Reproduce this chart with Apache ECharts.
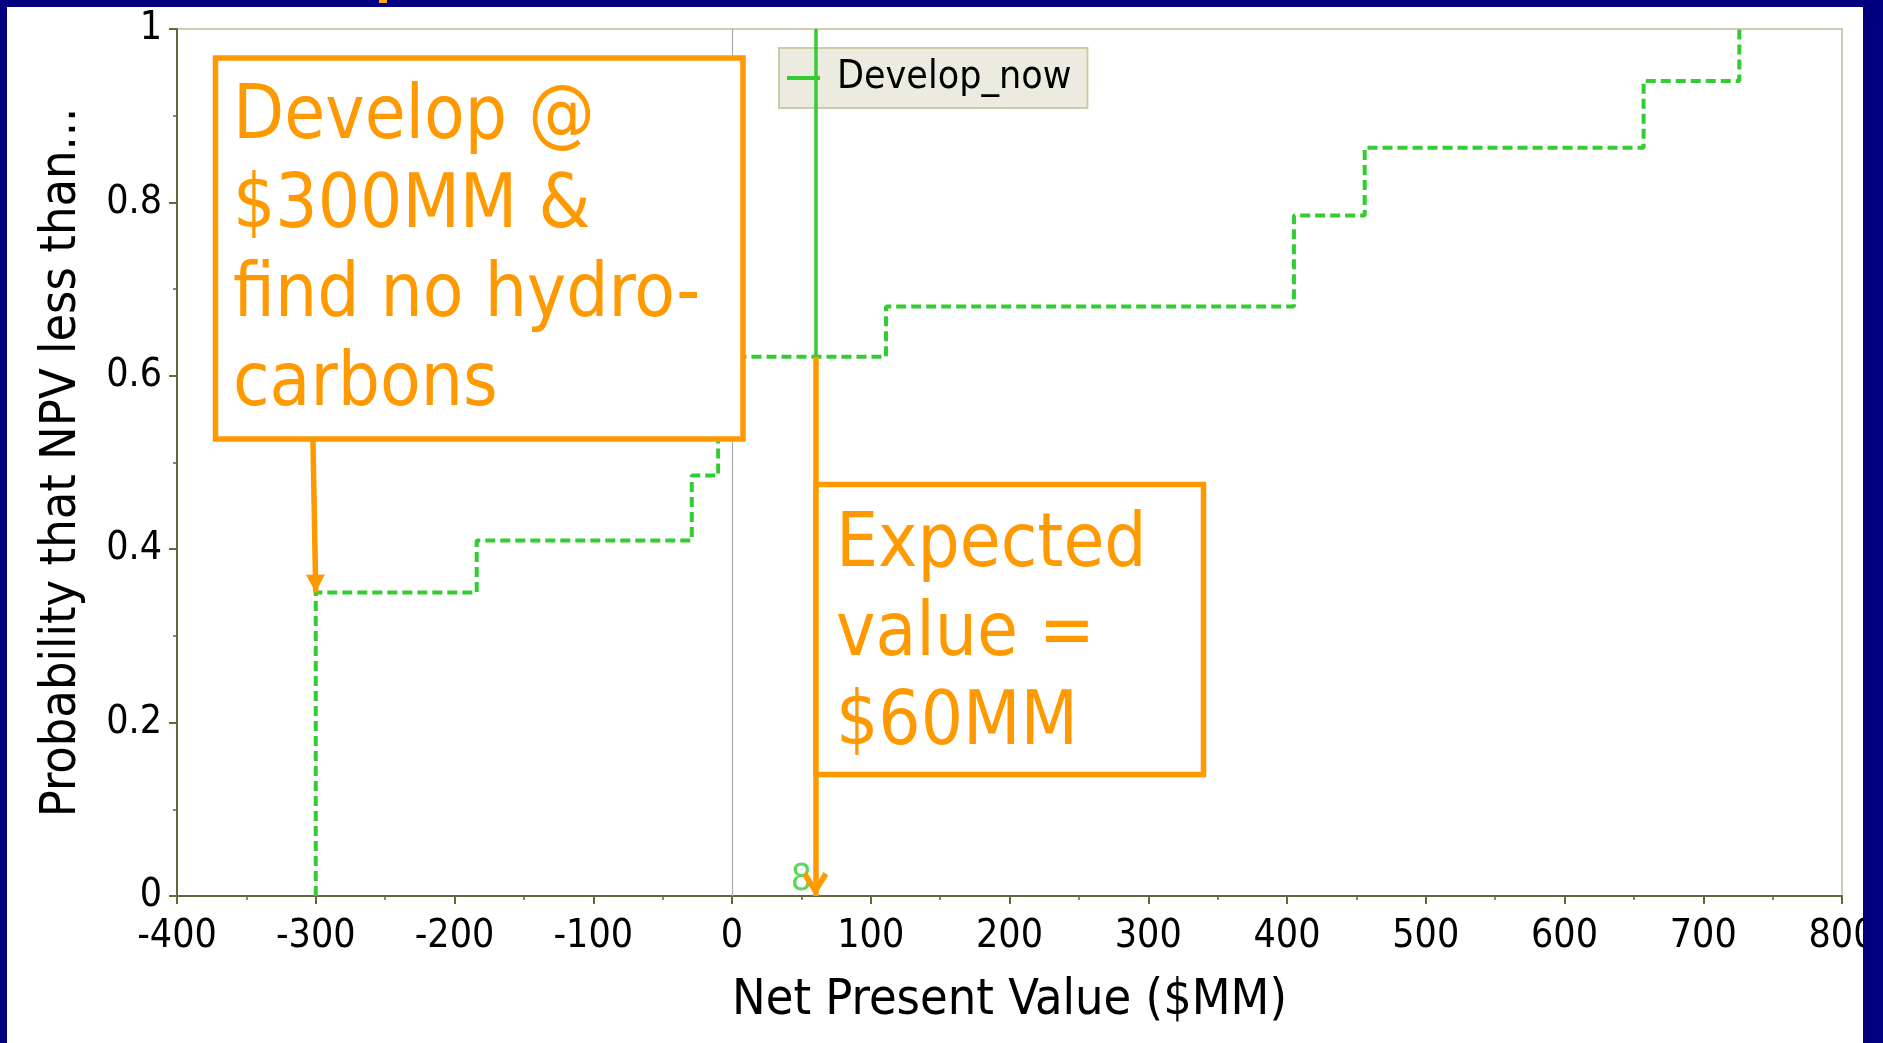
<!DOCTYPE html>
<html>
<head>
<meta charset="utf-8">
<title>Develop_now NPV distribution</title>
<script src="https://cdn.jsdelivr.net/npm/echarts@6/dist/echarts.min.js"></script>
<style>
  html, body { margin: 0; padding: 0; background: #ffffff; }
  #chart { position: absolute; left: 0; top: 0; width: 1883px; height: 1043px; }
</style>
</head>
<body>
<div id="chart"></div>
<script>
// Cumulative distribution of NPV for the "Develop_now" decision ($MM)
const npvBreaks = [-300, -300, -184, -29, -10, 111, 405, 456, 657, 726];
const cumProb   = [0, 0.35, 0.41, 0.485, 0.622, 0.68, 0.785, 0.863, 0.94, 1.0];

// Axis ranges
const xRange = { min: -400, max: 800, step: 100 };
const yRange = { min: 0, max: 1, step: 0.2 };

// Reference values marked on the chart
const expectedNPV = 60;
const expectedProb = 0.622;
const dryHoleNPV = -300;
const dryHoleProb = 0.35;
const dryHoleBoxProb = 0.525;
const meanMarkNPV = 50;

// Annotation texts
const dryHoleText = ['Develop @', '$300MM &', 'find no hydro-', 'carbons'];
const expectedText = ['Expected', 'value =', '$60MM'];

const seriesName = 'Develop_now';
const GREEN = '#33cc33';
const ORANGE = '#ff9900';
const NAVY = '#000080';
const AXIS = '#5b6b3b';
const FONT = '"DejaVu Sans Condensed", "DejaVu Sans", sans-serif';

// open chevron arrow head (points up before rotation)
const CHEVRON = 'path://M12.5,0 L25,20 L20.5,23.5 L12.5,10 L4.5,23.5 L0,20 Z';

const chart = echarts.init(document.getElementById('chart'), null, { renderer: 'canvas' });

const cdf = npvBreaks.map((x, i) => [x, cumProb[i]]);

function annotationBox(x, y, w, h, lines, tx, ty) {
  return {
    type: 'group',
    z: 50,
    children: [
      { type: 'rect', z: 50, shape: { x: x, y: y, width: w, height: h },
        style: { fill: '#ffffff', stroke: ORANGE, lineWidth: 5.5 } },
      { type: 'text', z: 51, style: {
          text: lines.join('\n'), x: tx, y: ty, fill: ORANGE,
          fontSize: 74, fontFamily: FONT, lineHeight: 89, verticalAlign: 'top'
        } }
    ]
  };
}

// arrow end point: head whose tip sits on the target value
function arrowEnd(coord, symbol, w, h) {
  return { coord: coord, symbol: symbol, symbolSize: [w, h], symbolOffset: [0, h / 2],
           symbolKeepAspect: false };
}

chart.setOption({
  backgroundColor: '#ffffff',
  animation: false,
  grid: {
    left: 177, right: 41, top: 29, bottom: 147,
    show: true, borderColor: '#cdcdaf', borderWidth: 2, backgroundColor: '#ffffff'
  },
  legend: {
    left: 779, top: 48,
    data: [{ name: seriesName, icon: 'rect', itemStyle: { color: GREEN } }],
    itemWidth: 33, itemHeight: 4,
    padding: [10, 16, 10, 8],
    backgroundColor: '#ecebdf', borderColor: '#cccca8', borderWidth: 2, borderRadius: 0,
    textStyle: { fontSize: 39, fontFamily: FONT, color: '#000000', padding: [0, 0, 0, 12], lineHeight: 40 },
    selectedMode: false
  },
  xAxis: {
    type: 'value', min: xRange.min, max: xRange.max, interval: xRange.step,
    name: 'Net Present Value ($MM)', nameLocation: 'middle', nameGap: 80,
    nameTextStyle: { fontSize: 50, fontFamily: FONT, color: '#000000' },
    axisLine: { show: true, onZero: false, lineStyle: { color: AXIS, width: 2 } },
    axisTick: { show: true, length: 8, lineStyle: { color: AXIS, width: 2 } },
    minorTick: { show: true, splitNumber: 2, length: 4, lineStyle: { color: AXIS, width: 1.5 } },
    axisLabel: { fontSize: 39, fontFamily: FONT, color: '#000000', margin: 21 },
    splitLine: { show: false }
  },
  yAxis: {
    type: 'value', min: yRange.min, max: yRange.max, interval: yRange.step,
    name: 'Probability that NPV less than...', nameLocation: 'middle', nameGap: 90,
    nameTextStyle: { fontSize: 50, fontFamily: FONT, color: '#000000' },
    axisLine: { show: true, onZero: false, lineStyle: { color: AXIS, width: 2 } },
    axisTick: { show: true, length: 8, lineStyle: { color: AXIS, width: 2 } },
    minorTick: { show: true, splitNumber: 2, length: 4, lineStyle: { color: AXIS, width: 1.5 } },
    axisLabel: { fontSize: 39, fontFamily: FONT, color: '#000000', margin: 15 },
    splitLine: { show: false }
  },
  series: [
    {
      // zero line and expected-value line
      name: 'refs', type: 'line', data: [], z: 1, silent: true,
      markLine: {
        silent: true, symbol: ['none', 'none'], label: { show: false },
        data: [
          [{ coord: [0, yRange.min], lineStyle: { color: '#aaaaaa', width: 1.2, type: 'solid' } },
           { coord: [0, yRange.max] }],
          [{ coord: [expectedNPV, yRange.max], lineStyle: { color: GREEN, width: 3.5, type: 'solid' } },
           { coord: [expectedNPV, yRange.min] }]
        ]
      }
    },
    {
      name: seriesName, type: 'line', step: 'end', data: cdf, z: 3,
      showSymbol: false, symbol: 'none', color: GREEN,
      lineStyle: { color: GREEN, width: 4, type: [10, 5] }
    },
    {
      // mean marker glyph on the axis
      name: 'meanMark', type: 'scatter', z: 4, silent: true,
      data: [[meanMarkNPV, 0]], symbolSize: 0,
      label: { show: true, position: 'top', distance: -3, formatter: '8',
               color: GREEN, fontSize: 37, fontFamily: FONT }
    },
    {
      // annotation arrows
      name: 'arrows', type: 'line', data: [], z: 6, silent: true,
      markLine: {
        silent: true, symbol: 'none',
        label: { show: false },
        lineStyle: { color: ORANGE, width: 5.5, type: 'solid' },
        itemStyle: { color: ORANGE },
        data: [
          [{ coord: [dryHoleNPV - 2, dryHoleBoxProb] },
           arrowEnd([dryHoleNPV, dryHoleProb], 'triangle', 19, 18)],
          [{ coord: [expectedNPV, expectedProb] },
           arrowEnd([expectedNPV, 0], CHEVRON, 26, 24)]
        ]
      }
    }
  ],
  graphic: [
    annotationBox(215.5, 58, 527.5, 381, dryHoleText, 233, 74),
    annotationBox(816, 484.5, 387.5, 290, expectedText, 836, 502),
    // navy slide frame
    { type: 'rect', z: 1000, shape: { x: 0, y: 0, width: 1883, height: 7 }, style: { fill: NAVY } },
    { type: 'rect', z: 1000, shape: { x: 0, y: 0, width: 7, height: 1043 }, style: { fill: NAVY } },
    { type: 'rect', z: 1000, shape: { x: 1863, y: 0, width: 20, height: 1043 }, style: { fill: NAVY } },
    { type: 'rect', z: 1001, shape: { x: 379, y: 0, width: 8, height: 3 }, style: { fill: '#ffa500' } }
  ]
});
</script>
</body>
</html>
